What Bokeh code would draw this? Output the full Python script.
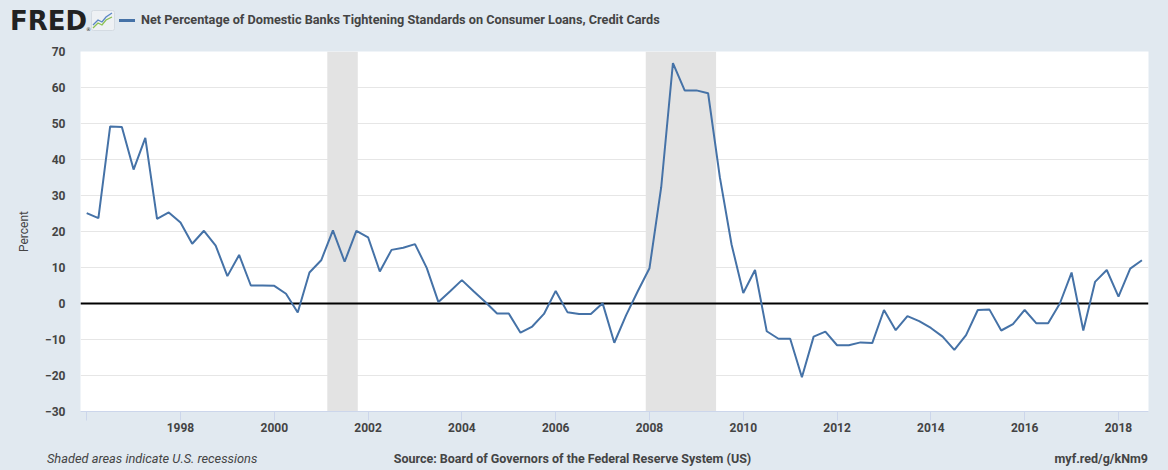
from bokeh.plotting import figure
from bokeh.layouts import column
from bokeh.models import Range1d, FixedTicker, Span, BoxAnnotation, Div
from bokeh.embed import file_html
from bokeh.resources import INLINE

# ---- data (quarterly, first quarter 1996Q1) ----
start_year = 1996
values = [
    25.1, 23.7, 49.2, 49.0,      # 1996
    37.2, 46.0, 23.5, 25.3,      # 1997
    22.5, 16.6, 20.2, 16.1,      # 1998
    7.6, 13.5, 5.0, 5.0,         # 1999
    4.9, 2.7, -2.5, 8.6,         # 2000
    12.0, 20.3, 11.6, 20.2,      # 2001
    18.4, 8.9, 14.9, 15.5,       # 2002
    16.5, 9.9, 0.4, 3.4,         # 2003
    6.5, 3.4, 0.4, -2.8,         # 2004
    -2.8, -8.1, -6.4, -2.9,      # 2005
    3.5, -2.4, -2.9, -2.9,       # 2006
    0.1, -10.9, -3.3, 3.4,       # 2007
    9.8, 32.3, 66.8, 59.2,       # 2008
    59.2, 58.4, 35.1, 16.4,      # 2009
    2.9, 9.3, -7.7, -9.8,        # 2010
    -9.8, -20.5, -9.2, -7.8,     # 2011
    -11.6, -11.6, -10.8, -11.0,  # 2012
    -1.8, -7.4, -3.5, -4.9,      # 2013
    -6.8, -9.2, -12.9, -8.8,     # 2014
    -1.8, -1.7, -7.5, -5.7,      # 2015
    -1.8, -5.5, -5.5, 0.0,       # 2016
    8.6, -7.5, 6.0, 9.3,         # 2017
    1.9, 9.7, 12.0,              # 2018
]
dates = [start_year + 0.25 * i for i in range(len(values))]

recession_start = [2001.13, 2007.92]
recession_end = [2001.78, 2009.42]

y_ticks = [-30, -20, -10, 0, 10, 20, 30, 40, 50, 60, 70]
x_ticks = [1996, 1998, 2000, 2002, 2004, 2006, 2008, 2010, 2012, 2014, 2016, 2018]
x_tick_labels = ["", "1998", "2000", "2002", "2004", "2006", "2008", "2010",
                 "2012", "2014", "2016", "2018"]

series_name = "Net Percentage of Domestic Banks Tightening Standards on Consumer Loans, Credit Cards"
footer_left = "Shaded areas indicate U.S. recessions"
footer_center = "Source: Board of Governors of the Federal Reserve System (US)"
footer_right = "myf.red/g/kNm9"
y_label = "Percent"

BG = "#e1e9f0"
LINE = "#4572a7"
TXT = "#444444"
FONT = "Roboto"
W = 1168
HH, MH, FH = 40, 404, 26

# ---- header (HTML strip) ----
header_html = f"""
<div style="position:relative;width:{W}px;height:{HH}px;background:{BG};overflow:hidden;">
  <span style="position:absolute;left:10px;top:8px;font-family:'DejaVu Sans';font-weight:bold;
        font-size:26px;line-height:26px;color:#222;">FRED</span>
  <span style="position:absolute;left:86px;top:27px;font-family:'DejaVu Sans';font-size:5px;
        line-height:5px;color:#222;">&reg;</span>
  <svg style="position:absolute;left:91px;top:10px;" width="24" height="21">
    <rect x="0.5" y="0.5" width="23" height="20" rx="2" fill="#eef1f4" stroke="#d4dbe2"/>
    <polyline points="2,15 7,10 11,12 15,7 21,3" fill="none" stroke="#5b86c5" stroke-width="1.3"/>
    <polyline points="2,18 7,13 11,15 15,10 21,7" fill="none" stroke="#8cc152" stroke-width="1.3"/>
  </svg>
  <div style="position:absolute;left:119px;top:19px;width:16px;height:2.5px;background:{LINE};"></div>
  <span style="position:absolute;left:141px;top:12px;font-family:'{FONT}';font-weight:bold;
        font-size:12.7px;line-height:16px;color:{TXT};white-space:nowrap;">{series_name}</span>
</div>
"""
hdr = Div(text=header_html, width=W, height=HH, margin=0)

# ---- main chart ----
p = figure(width=W, height=MH, output_backend="svg", toolbar_location=None,
           x_range=Range1d(1995.868, 2018.64), y_range=Range1d(-30, 70),
           min_border_left=80, min_border_right=20, min_border_top=11,
           min_border_bottom=MH - 11 - 360, background_fill_color="white",
           border_fill_color=BG, outline_line_color=None, margin=0)

for s, e in zip(recession_start, recession_end):
    p.add_layout(BoxAnnotation(left=s, right=e, fill_color="#e3e3e3", fill_alpha=1.0,
                               line_alpha=0, level="underlay"))

p.add_layout(Span(location=0, dimension="width", line_color="black", line_width=2,
                  level="underlay"))

p.line(dates, values, line_color=LINE, line_width=2)

p.yaxis.ticker = FixedTicker(ticks=y_ticks)
p.yaxis.axis_line_color = None
p.yaxis.major_tick_line_color = None
p.yaxis.minor_tick_line_color = None
p.yaxis.major_tick_out = 0
p.yaxis.major_label_standoff = 15
p.yaxis.major_label_text_font = FONT
p.yaxis.major_label_text_font_size = "12px"
p.yaxis.major_label_text_font_style = "bold"
p.yaxis.major_label_text_color = TXT
p.yaxis.axis_label = y_label
p.yaxis.axis_label_standoff = 11
p.yaxis.axis_label_text_font = FONT
p.yaxis.axis_label_text_font_style = "normal"
p.yaxis.axis_label_text_font_size = "12px"
p.yaxis.axis_label_text_color = TXT

p.xaxis.ticker = FixedTicker(ticks=x_ticks)
p.xaxis.major_label_overrides = {t: l for t, l in zip(x_ticks, x_tick_labels)}
p.xaxis.axis_line_color = "#ccd6eb"
p.xaxis.major_tick_line_color = "#ccd6eb"
p.xaxis.minor_tick_line_color = None
p.xaxis.major_tick_out = 9
p.xaxis.major_tick_in = 0
p.xaxis.major_label_standoff = 2
p.xaxis.major_label_text_font = FONT
p.xaxis.major_label_text_font_size = "12px"
p.xaxis.major_label_text_font_style = "bold"
p.xaxis.major_label_text_color = TXT

p.ygrid.ticker = FixedTicker(ticks=y_ticks)
p.ygrid.grid_line_color = "#e6e6e6"
p.xgrid.grid_line_color = None

# ---- footer (HTML strip) ----
footer_html = f"""
<div style="position:relative;width:{W}px;height:{FH}px;background:{BG};overflow:hidden;
     font-family:'{FONT}';font-size:12.5px;line-height:16px;color:{TXT};white-space:nowrap;">
  <span style="position:absolute;left:47px;top:7px;font-style:italic;font-size:12.8px;">{footer_left}</span>
  <span style="position:absolute;left:0px;width:1145px;top:7px;text-align:center;font-weight:bold;">{footer_center}</span>
  <span style="position:absolute;right:20px;top:7px;font-weight:bold;">{footer_right}</span>
</div>
"""
ftr = Div(text=footer_html, width=W, height=FH, margin=0)

layout = column(hdr, p, ftr, spacing=0, styles={"background-color": BG})
open("out.html", "w").write(file_html(layout, INLINE))
